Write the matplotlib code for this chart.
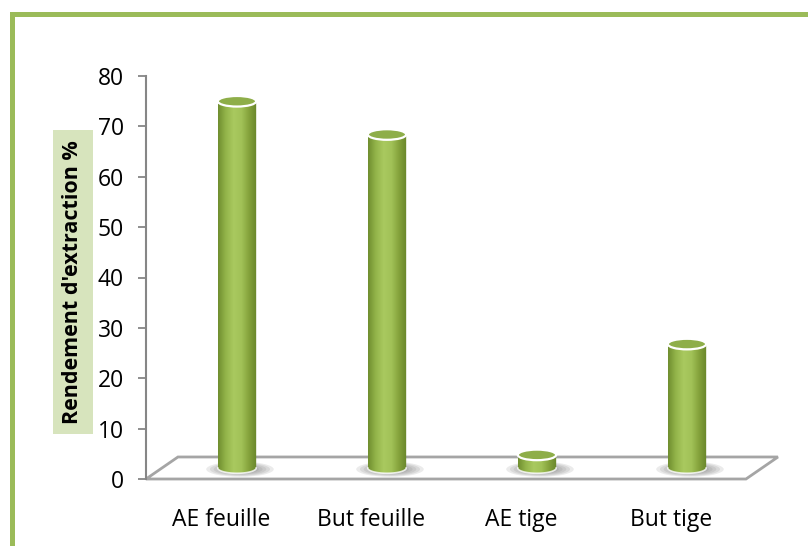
import numpy as np
import matplotlib
matplotlib.use('Agg')
import matplotlib.pyplot as plt
from matplotlib.patches import Ellipse, Polygon, PathPatch
from matplotlib.path import Path
from matplotlib.colors import LinearSegmentedColormap
from matplotlib.lines import Line2D

categories = ['AE feuille', 'But feuille', 'AE tige', 'But tige']
rendement = [72.8, 66.2, 2.6, 24.6]
yticks = [0, 10, 20, 30, 40, 50, 60, 70, 80]

plt.rcParams['font.family'] = ['Open Sans', 'DejaVu Sans']

W, H = 808, 546
fig = plt.figure(figsize=(W / 100, H / 100), dpi=100)
ax = fig.add_axes([146 / W, 67 / H, 600 / W, 403 / H])

# floor depth (data units) and cylinder size
depth_x, depth_y = 0.213, 4.37
half_w = 0.128
half_h = 1.05

olive = LinearSegmentedColormap.from_list(
    'olive', ['#6f8d2f', '#93b44a', '#a9c95f', '#a2c258', '#84a23b', '#68852b'])
grad_img = olive(np.linspace(0, 1, 256))[None, :, :]

floor = Polygon([(-0.5, 0), (3.5, 0), (3.5 + depth_x, depth_y), (-0.5 + depth_x, depth_y)],
                closed=True, fill=False, edgecolor='#a5a5a5', lw=2, clip_on=False, zorder=1)
ax.add_patch(floor)

t = np.linspace(np.pi, 2 * np.pi, 40)
for i, val in enumerate(rendement):
    cx = i + depth_x / 2
    y0 = depth_y / 2
    y1 = y0 + val

    # soft shadow under the cylinder
    for k in range(7):
        s = 1 - k * 0.11
        ax.add_patch(Ellipse((cx + 0.02, y0 - 0.25), 0.45 * s, 3.0 * s,
                             facecolor='#666666', edgecolor='none', alpha=0.13, zorder=2))

    verts = [(cx + half_w * np.cos(a), y0 + half_h * np.sin(a)) for a in t]
    verts += [(cx + half_w, y1), (cx - half_w, y1), verts[0]]
    codes = [Path.MOVETO] + [Path.LINETO] * (len(verts) - 2) + [Path.CLOSEPOLY]
    body = PathPatch(Path(verts, codes), facecolor='none', edgecolor='none', zorder=3)
    ax.add_patch(body)
    im = ax.imshow(grad_img, extent=(cx - half_w, cx + half_w, y0 - half_h, y1),
                   aspect='auto', zorder=3, interpolation='bilinear')
    im.set_clip_path(body)

    ax.plot(cx + half_w * np.cos(t), y0 + half_h * np.sin(t), color='white', lw=1.2, alpha=0.8, zorder=4)
    ax.add_patch(Ellipse((cx, y1), 2 * half_w, 2 * half_h, facecolor='#8eae49',
                         edgecolor='white', lw=1.6, zorder=5))

ax.set_xlim(-0.5, 3.5)
ax.set_ylim(0, 80)

for side in ['top', 'right', 'bottom']:
    ax.spines[side].set_visible(False)
ax.spines['left'].set_color('#868686')
ax.spines['left'].set_linewidth(1.5)

ax.set_yticks(yticks)
ax.tick_params(axis='y', length=6, width=1.3, color='#868686', pad=10, labelsize=16.5)
ax.set_xticks(range(len(categories)), categories)
ax.tick_params(axis='x', length=0, pad=21, labelsize=16.5)

fig.text(73 / W, 1 - 282 / H, "Rendement d'extraction %", rotation=90, ha='center', va='center',
         fontsize=15.5, fontweight='bold',
         bbox=dict(boxstyle='square,pad=0.45', facecolor='#d7e4bd', edgecolor='none'))

# green frame on the left and top
fig.add_artist(Line2D([12 / W, 12 / W, 1], [0, 1 - 14 / H, 1 - 14 / H], transform=fig.transFigure,
                      color='#9bbb59', lw=3.6, solid_joinstyle='miter'))

fig.savefig('out.png', dpi=100)
